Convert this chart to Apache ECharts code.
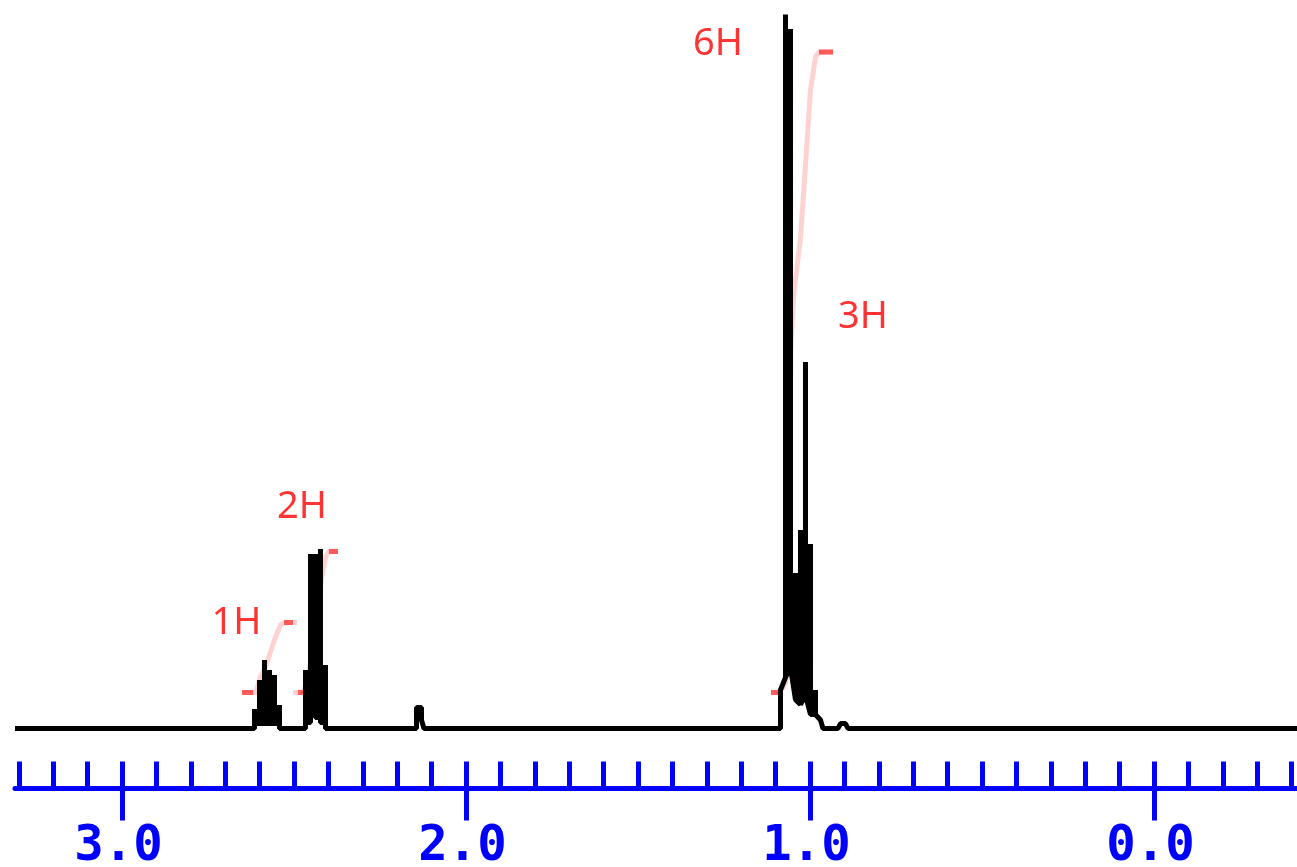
<!DOCTYPE html>
<html>
<head>
<meta charset="utf-8">
<script src="https://cdn.jsdelivr.net/npm/echarts@6/dist/echarts.min.js"></script>
<style>
html,body{margin:0;padding:0;background:#fff;}
#nmr{width:1297px;height:867px;}
</style>
</head>
<body>
<div id="nmr"></div>
<script>
// ppm 范围 (左大右小)
var x_min = -0.4157;
var x_max = 3.311;
// 谱线 [ppm, 强度]，多重峰按列上下走一遍
var spectrum = [
	[3.311, 0], [2.6148, 0],
	// 1H
	[2.6148, 2.73], [2.6148, 0.70], [2.6003, 0.70], [2.6003, 6.80], [2.6003, 0.70],
	[2.5858, 0.70], [2.5858, 9.60], [2.5858, 0.70], [2.5712, 0.70], [2.5712, 8.20], [2.5712, 0.70],
	[2.5567, 0.70], [2.5567, 7.50], [2.5567, 0.70], [2.5422, 0.70], [2.5422, 3.29], [2.5422, 0], [2.5349, 0],
	// 2H
	[2.4666, 0], [2.4666, 8.20], [2.4666, 0.84], [2.4520, 0.84], [2.4520, 24.46], [2.4520, 2.24],
	[2.4375, 2.24], [2.4375, 24.46], [2.4375, 1.54], [2.4230, 1.54], [2.4230, 25.16], [2.4230, 0.84],
	[2.4084, 0.84], [2.4084, 8.90], [2.4084, 0],
	// 小杂峰
	[2.1439, 0], [2.1439, 2.94], [2.1294, 2.94], [2.1294, 1.20], [2.1221, 0],
	// 6H + 3H
	[1.0858, 0], [1.0858, 5.40], [1.0712, 7.15], [1.0712, 100.07], [1.0712, 7.15],
	[1.0567, 8.55], [1.0567, 98.04], [1.0567, 8.55], [1.0422, 4.05], [1.0422, 21.79], [1.0422, 4.05],
	[1.0276, 3.36], [1.0276, 27.82], [1.0276, 3.36], [1.0131, 4.69], [1.0131, 51.37], [1.0131, 4.69],
	[0.9985, 1.96], [0.9985, 25.86], [0.9985, 1.96], [0.9840, 1.96], [0.9840, 5.40], [0.9840, 1.96],
	[0.9695, 1.19], [0.9622, 0],
	[0.9186, 0], [0.9113, 0.70], [0.8968, 0.70], [0.8895, 0],
	[-0.4157, 0]
];
// 积分曲线
var integral_1h = [[2.6512, 5.05], [2.6105, 5.05], [2.5988, 7.08], [2.5843, 8.48], [2.5683, 10.72], [2.5538, 12.82], [2.5392, 14.51], [2.5262, 14.86], [2.4913, 14.86]];
var integral_2h = [[2.5029, 5.05], [2.4738, 5.05], [2.4593, 6.80], [2.4448, 12.40], [2.4302, 18.01], [2.4157, 22.21], [2.4070, 24.18], [2.3983, 24.81], [2.3721, 24.81]];
var integral_9h = [[1.1134, 5.05], [1.0930, 5.05], [1.0785, 5.68], [1.0698, 6.52], [1.0640, 18.01], [1.0552, 53.05], [1.0480, 60.48], [1.0422, 62.86], [1.0276, 68.75], [1.0131, 78.98], [0.9985, 89.49], [0.9840, 94.11], [0.9738, 94.81], [0.9331, 94.81]];
// 积分线两端的红色短横
var integral_ends = [
	[[2.6512, 5.05], [2.6190, 5.05]],
	[[2.5291, 14.86], [2.5029, 14.86]],
	[[2.4884, 5.05], [2.4738, 5.05]],
	[[2.3983, 24.81], [2.3721, 24.81]],
	[[1.1134, 5.05], [1.0930, 5.05]],
	[[0.9738, 94.81], [0.9331, 94.81]]
];
// 氢数标注
var label_names = ['6H', '3H', '2H', '1H'];
var label_pos = [[1.2674, 95.95], [0.8459, 57.70], [2.4767, 30.95], [2.6672, 14.80]];

var chart = echarts.init(document.getElementById('nmr'));
var blue = '#0000ff';

function hiddenY(i){
	return {gridIndex: i, type: 'value', min: 0, max: 100, show: false};
}
function curve(data, color, z, join){
	return {
		type: 'line', xAxisIndex: 0, yAxisIndex: 0, data: data, symbol: 'none', clip: false, silent: true, z: z,
		lineStyle: {color: color, width: 5, join: join || 'round', cap: 'butt'}
	};
}

var series = [];
series.push(curve(integral_1h, '#ffd2d2', 1));
series.push(curve(integral_2h, '#ffd2d2', 1));
series.push(curve(integral_9h, '#ffd2d2', 1));
integral_ends.map(function(item){
	series.push(curve(item, '#ff5a5a', 2));
});
series.push(curve(spectrum, '#000000', 3, 'bevel'));
series.push({
	type: 'scatter', xAxisIndex: 0, yAxisIndex: 0, symbolSize: 1, silent: true, z: 5,
	itemStyle: {color: 'rgba(0,0,0,0)'},
	label: {show: true, position: 'inside', formatter: '{b}', color: '#ff0000', fontFamily: 'Noto Sans', fontSize: 38},
	data: label_names.map(function(n, i){ return {name: n, value: label_pos[i]}; })
});

var option = {
	animation: false,
	grid: [
		{left: 15, right: 0, top: 15, bottom: 138.5, outerBoundsMode: 'none'},		// 谱图
		{left: 18.8, right: 5.4, top: 15, bottom: 138.5, outerBoundsMode: 'none'},	// 0.1 小刻度
		{left: 122, right: 143, top: 15, bottom: 138.5, outerBoundsMode: 'none'}		// 1.0 大刻度
	],
	xAxis: [{
		gridIndex: 0, type: 'value', inverse: true, min: x_min, max: x_max, offset: 60,
		axisLine: {show: true, onZero: false, lineStyle: {color: blue, width: 5}},
		axisTick: {show: false}, axisLabel: {show: false}, splitLine: {show: false}
	},{
		gridIndex: 1, type: 'value', inverse: true, min: -0.4, max: 3.3, interval: 0.1, offset: 60,
		axisLine: {show: false, onZero: false},
		axisTick: {show: true, inside: true, length: 27, lineStyle: {color: blue, width: 5}},
		axisLabel: {show: false}, splitLine: {show: false}
	},{
		gridIndex: 2, type: 'value', inverse: true, min: 0, max: 3, interval: 1, offset: 60,
		axisLine: {show: false, onZero: false},
		axisTick: {show: true, inside: false, length: 32, lineStyle: {color: blue, width: 5}},
		axisLabel: {
			show: true, margin: 34, color: blue, fontFamily: 'DejaVu Sans Mono', fontWeight: 'bold', fontSize: 49,
			padding: [0, 7, 0, 0],
			formatter: function(v){ return v.toFixed(1); }
		},
		splitLine: {show: false}
	}],
	yAxis: [hiddenY(0), hiddenY(1), hiddenY(2)],
	series: series
};
chart.setOption(option);
</script>
</body>
</html>
